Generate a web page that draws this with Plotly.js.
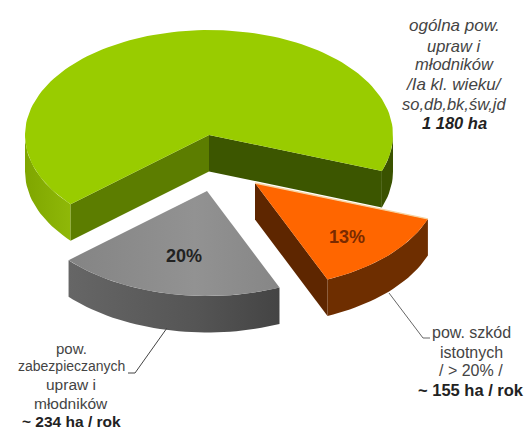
<!DOCTYPE html>
<html>
<head>
<meta charset="utf-8">
<script src="https://cdn.plot.ly/plotly-3.0.1.min.js"></script>
<style>html,body{margin:0;padding:0;background:#fff}#chart{width:528px;height:431px}</style>
</head>
<body>
<div id="chart"></div>
<script>
// Data
const categories = ['ogólna pow. upraw i młodników', 'pow. szkód istotnych', 'pow. zabezpieczanych upraw i młodników'];
const shares = [67, 13, 20];
const percentLabels = ['', '13%', '20%'];
const labelGreen = ['ogólna pow.', 'upraw i', 'młodników', '/Ia kl. wieku/', 'so,db,bk,św,jd', '1 180 ha'];
const labelOrange = ['pow. szkód', 'istotnych', '/ > 20% /', '~ 155 ha / rok'];
const labelGray = ['pow.', 'zabezpieczanych', 'upraw i', 'młodników', '~ 234 ha / rok'];

// Pie geometry (screen-like axis units)
const RX = 184, RY = 105, DEPTH = 36.5, START = 20;
const centers = {green: [209, 135], orange: [255, 183], gray: [207, 191]};
const total = shares.reduce((a, b) => a + b, 0);
const sweep = v => v / total * 360;
const orangeFrom = START, orangeTo = orangeFrom + sweep(shares[1]);
const grayFrom = orangeTo, grayTo = grayFrom + sweep(shares[2]);
const greenFrom = grayTo, greenTo = greenFrom + sweep(shares[0]);

function pt(c, a, dz) {
  const t = a * Math.PI / 180;
  return [c[0] + RX * Math.cos(t), c[1] + RY * Math.sin(t) + (dz || 0)];
}
function arc(c, a, b, dz) {
  const out = [], n = Math.max(2, Math.ceil(Math.abs(b - a) / 2));
  for (let i = 0; i <= n; i++) out.push(pt(c, a + (b - a) * i / n, dz));
  return out;
}
function poly(points, color, name, grad) {
  const tr = {
    type: 'scatter', mode: 'lines', name: name,
    x: points.map(p => p[0]), y: points.map(p => p[1]),
    fill: 'toself', fillcolor: color, line: {width: 0},
    hoverinfo: 'name', showlegend: false
  };
  if (grad) tr.fillgradient = {type: 'horizontal', colorscale: grad};
  return tr;
}
function wedgeTop(c, a, b, color, name, grad) {
  return poly([c].concat(arc(c, a, b)).concat([c]), color, name, grad);
}
function outerSide(c, a, b, color, name, grad) {
  return poly(arc(c, a, b).concat(arc(c, b, a, DEPTH)), color, name, grad);
}
function cutFace(c, a, color, name) {
  const e = pt(c, a);
  return poly([c, e, [e[0], e[1] + DEPTH], [c[0], c[1] + DEPTH], c], color, name);
}

const G = centers.green, O = centers.orange, A = centers.gray;
const traces = [
  // green
  outerSide(G, greenFrom, 180, '#86ad00', categories[0], [[0, '#7fa600'], [1, '#8fb808']]),
  outerSide(G, 360, greenTo, '#3a5200', categories[0]),
  cutFace(G, greenFrom, '#5c7d00', categories[0]),
  cutFace(G, greenTo, '#3c5600', categories[0]),
  wedgeTop(G, greenFrom, greenTo, '#99cc00', categories[0]),
  // gray
  outerSide(A, grayFrom, grayTo, '#555555', categories[2], [[0, '#666666'], [0.6, '#555555'], [1, '#444444']]),
  wedgeTop(A, grayFrom, grayTo, '#8c8c8c', categories[2], [[0, '#848484'], [0.6, '#929292'], [1, '#868686']]),
  // orange
  cutFace(O, orangeTo, '#5e2600', categories[1]),
  outerSide(O, orangeFrom, orangeTo, '#6e2e00', categories[1]),
  wedgeTop(O, orangeFrom, orangeTo, '#ff6600', categories[1]),
  {type: 'scatter', mode: 'lines', x: [O[0], pt(O, orangeFrom)[0]], y: [O[1], pt(O, orangeFrom)[1]],
   line: {color: '#f7d3a0', width: 1.4}, hoverinfo: 'skip', showlegend: false}
];

// Text
const ink = '#444444';
function line(text, x, y, size, color) {
  return {text: text, x: x, y: y, xref: 'x', yref: 'y', showarrow: false, xanchor: 'center', yanchor: 'middle',
          font: {family: 'Liberation Sans, Arial, sans-serif', size: size, color: color || ink}};
}
const gy = [25, 46, 64, 84, 104, 123], gs = [17, 16.5, 16.5, 17, 16.5, 16.5];
const oy = [332, 352, 370, 390], os = [16, 16, 16, 16.5];
const ay = [348, 366, 384, 403, 421], as = [15, 14, 15.5, 15.5, 15.5];
const annotations = []
  .concat(labelGreen.map((t, i) => line(i === 5 ? '<b><i>' + t + '</i></b>' : '<i>' + t + '</i>', 454, gy[i], gs[i], i === 5 ? '#222' : ink)))
  .concat(labelOrange.map((t, i) => line(i === 3 ? '<b>' + t + '</b>' : t, 471, oy[i], os[i], i === 3 ? '#222' : ink)))
  .concat(labelGray.map((t, i) => line(i === 4 ? '<b>' + t + '</b>' : t, 71, ay[i], as[i], i === 4 ? '#222' : ink)));
annotations.push(line('<b>' + percentLabels[2] + '</b>', 184, 256, 18, '#222222'));
annotations.push(line('<b>' + percentLabels[1] + '</b>', 347, 237, 18, '#7a2a00'));

const layout = {
  width: 528, height: 431,
  margin: {l: 0, r: 0, t: 0, b: 0},
  paper_bgcolor: '#ffffff', plot_bgcolor: '#ffffff',
  xaxis: {range: [0, 528], visible: false, fixedrange: true},
  yaxis: {range: [431, 0], visible: false, fixedrange: true},
  annotations: annotations,
  shapes: [
    {type: 'path', xref: 'x', yref: 'y', path: 'M167,328 L135,373 L128,373', line: {color: '#444444', width: 1}},
    {type: 'path', xref: 'x', yref: 'y', path: 'M389,293 L423,338 L430,338', line: {color: '#666666', width: 1}}
  ],
  showlegend: false
};
Plotly.newPlot('chart', traces, layout, {displayModeBar: false, staticPlot: true});
</script>
</body>
</html>
